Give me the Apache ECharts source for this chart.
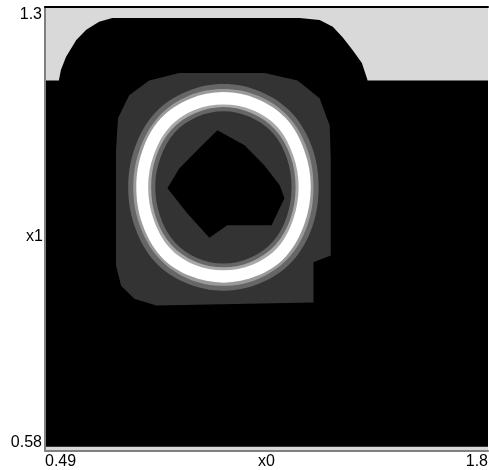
<!DOCTYPE html>
<html>
<head>
<meta charset="utf-8">
<script src="https://cdn.jsdelivr.net/npm/echarts@6/dist/echarts.min.js"></script>
<style>
  html, body { margin: 0; padding: 0; background: #fff; }
  #main { width: 489px; height: 470px; }
</style>
</head>
<body>
<div id="main"></div>
<script>
// axis ranges and the labels shown on them
var xRange = [0.49, 1.8];
var yRange = [0.58, 1.3];
var xTicks = [0.49, 1.8];
var yTicks = [0.58, 1.3];

// level regions, as [x0, x1] vertices
var blackField = [[0.493,0.587],[1.800,0.587],[1.800,1.181],[1.444,1.181],[1.441,1.186],[1.427,1.209],
  [1.400,1.230],[1.370,1.251],[1.341,1.268],[1.302,1.279],[1.243,1.282],[0.689,1.282],[0.650,1.276],
  [0.612,1.263],[0.582,1.246],[0.552,1.219],[0.537,1.198],[0.531,1.181],[0.493,1.181]];
var outerBlob = [[0.700,1.068],[0.706,1.120],[0.739,1.157],[0.798,1.181],[0.887,1.193],[1.139,1.193],
  [1.237,1.181],[1.302,1.152],[1.332,1.108],[1.335,1.051],[1.335,0.897],[1.284,0.886],[1.284,0.821],
  [0.819,0.816],[0.754,0.827],[0.715,0.848],[0.700,0.881]];
var ringOuterMid = [[0.736,1.008],[0.756,1.072],[0.815,1.128],[0.909,1.163],[1.018,1.175],[1.126,1.163],
  [1.220,1.128],[1.280,1.072],[1.299,1.008],[1.280,0.943],[1.220,0.887],[1.126,0.852],[1.018,0.840],
  [0.909,0.852],[0.815,0.887],[0.756,0.943]];
var ringOuterLight = [[0.751,1.008],[0.770,1.069],[0.826,1.122],[0.915,1.156],[1.018,1.167],[1.120,1.156],
  [1.210,1.122],[1.266,1.069],[1.284,1.008],[1.266,0.946],[1.210,0.893],[1.120,0.859],[1.018,0.848],
  [0.915,0.859],[0.826,0.893],[0.770,0.946]];
var ringWhite = [[0.760,1.008],[0.778,1.067],[0.832,1.119],[0.918,1.151],[1.018,1.162],[1.117,1.151],
  [1.203,1.119],[1.257,1.067],[1.276,1.008],[1.257,0.948],[1.203,0.896],[1.117,0.864],[1.018,0.853],
  [0.918,0.864],[0.832,0.896],[0.778,0.948]];
var ringInnerLight = [[0.795,1.008],[0.811,1.059],[0.858,1.105],[0.932,1.133],[1.018,1.142],[1.103,1.133],
  [1.178,1.105],[1.224,1.059],[1.240,1.008],[1.224,0.956],[1.178,0.910],[1.103,0.882],[1.018,0.873],
  [0.932,0.882],[0.858,0.910],[0.811,0.956]];
var ringInnerMid = [[0.804,1.008],[0.819,1.058],[0.864,1.101],[0.935,1.128],[1.018,1.138],[1.100,1.128],
  [1.171,1.101],[1.216,1.058],[1.231,1.008],[1.216,0.957],[1.171,0.914],[1.100,0.887],[1.018,0.878],
  [0.935,0.887],[0.864,0.914],[0.819,0.957]];
var innerDark = [[0.816,1.008],[0.831,1.055],[0.873,1.096],[0.940,1.122],[1.018,1.131],[1.095,1.122],
  [1.163,1.096],[1.205,1.055],[1.219,1.008],[1.205,0.960],[1.163,0.919],[1.095,0.893],[1.018,0.884],
  [0.940,0.893],[0.873,0.919],[0.831,0.960]];
var innerHole = [[1.000,1.100],[1.080,1.076],[1.139,1.043],[1.184,1.011],[1.198,0.990],[1.160,0.946],
  [1.029,0.946],[0.976,0.926],[0.911,0.965],[0.852,1.006],[0.887,1.038],[0.946,1.071]];

// drawing order, outside in
var layers = [
  { pts: blackField, color: '#000000', smooth: 0 },
  { pts: outerBlob, color: '#333333', smooth: 0 },
  { pts: ringOuterMid, color: '#666666', smooth: 0.35 },
  { pts: ringOuterLight, color: '#9a9a9a', smooth: 0.35 },
  { pts: ringWhite, color: '#ffffff', smooth: 0.35 },
  { pts: ringInnerLight, color: '#a8a8a8', smooth: 0.35 },
  { pts: ringInnerMid, color: '#666666', smooth: 0.35 },
  { pts: innerDark, color: '#333333', smooth: 0.35 },
  { pts: innerHole, color: '#000000', smooth: 0 }
];

var chart = echarts.init(document.getElementById('main'));

var font = 'Liberation Sans, Arial, sans-serif';

var option = {
  animation: false,
  grid: {
    left: 45, right: 1, top: 7, bottom: 19,
    outerBoundsMode: 'none', containLabel: false,
    show: true, backgroundColor: '#d9d9d9', borderWidth: 0
  },
  xAxis: [{
    type: 'value', min: xRange[0], max: xRange[1],
    name: 'x0', nameLocation: 'middle', nameGap: 3, nameMoveOverlap: false,
    nameTextStyle: { color: '#000', fontSize: 16, fontFamily: font, verticalAlign: 'top' },
    axisLine: { show: true, lineStyle: { color: '#808080', width: 2 } },
    axisTick: { show: false },
    splitLine: { show: false },
    axisLabel: { customValues: xTicks, color: '#000', fontSize: 16, fontFamily: font, margin: 3,
      alignMinLabel: 'left', alignMaxLabel: 'right' }
  }, {
    type: 'value', min: xRange[0], max: xRange[1], position: 'top',
    axisLine: { show: true, lineStyle: { color: '#000', width: 2 } },
    axisTick: { show: false }, axisLabel: { show: false }, splitLine: { show: false }
  }],
  yAxis: {
    type: 'value', min: yRange[0], max: yRange[1],
    name: 'x1', nameLocation: 'middle', nameGap: 2, nameRotate: 0, nameMoveOverlap: false,
    nameTextStyle: { color: '#000', fontSize: 16, fontFamily: font, verticalAlign: 'top' },
    axisLine: { show: true, lineStyle: { color: '#808080', width: 2 } },
    axisTick: { show: false },
    splitLine: { show: false },
    axisLabel: { customValues: yTicks, color: '#000', fontSize: 16, fontFamily: font, margin: 3,
      verticalAlignMinLabel: 'bottom', verticalAlignMaxLabel: 'top' }
  },
  series: [{
    type: 'custom',
    silent: true,
    xAxisIndex: 0,
    data: layers.map(function (l, i) { return [i]; }),
    renderItem: function (params, api) {
      var layer = layers[params.dataIndex];
      var points = layer.pts.map(function (p) { return api.coord(p); });
      return {
        type: 'polygon',
        shape: { points: points, smooth: layer.smooth },
        style: { fill: layer.color, stroke: null }
      };
    }
  }]
};

chart.setOption(option);
</script>
</body>
</html>
